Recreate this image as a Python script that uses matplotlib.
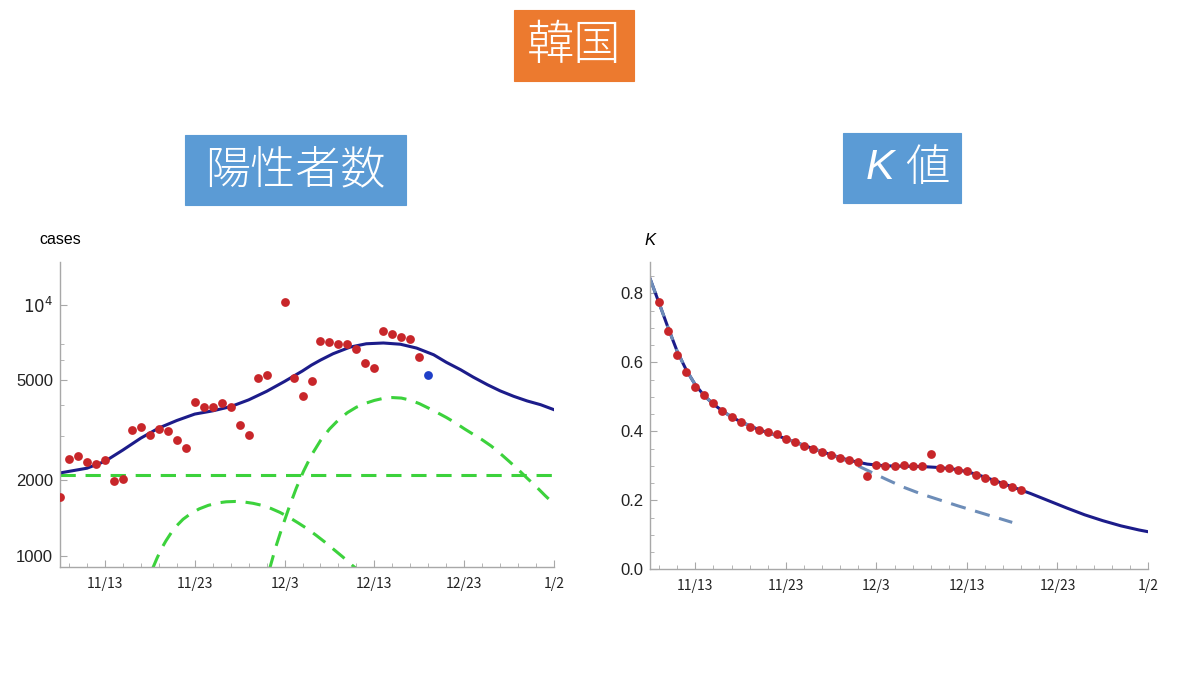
import datetime as dt
import numpy as np
import matplotlib
matplotlib.use("Agg")
import matplotlib.pyplot as plt
from matplotlib.patches import Rectangle
from matplotlib.ticker import FixedLocator, NullFormatter

plt.rcParams["font.family"] = ["Noto Sans CJK JP", "DejaVu Sans"]
LATIN = ["Liberation Sans", "DejaVu Sans"]

# day 0 = 11/8
START = dt.date(2020, 11, 8)
tick_days = [5, 15, 25, 35, 45, 55]
tick_labels = ["11/13", "11/23", "12/3", "12/13", "12/23", "1/2"]

# ---- left panel: daily positive cases (log scale) ----
case_days = [0, 1, 2, 3, 4, 5, 6, 7, 8, 9, 10, 11, 12, 13, 14, 15, 16, 17, 18, 19,
             20, 21, 22, 23, 25, 26, 27, 28, 29, 30, 31, 32, 33, 34, 35, 36, 37, 38,
             39, 40]
case_vals = [1720, 2430, 2500, 2360, 2320, 2420, 1995, 2030, 3170, 3260, 3030, 3210,
             3130, 2900, 2690, 4100, 3900, 3900, 4080, 3910, 3320, 3030, 5100, 5260,
             10250, 5100, 4340, 4950, 7190, 7080, 6960, 6960, 6680, 5840, 5600, 7880,
             7620, 7410, 7300, 6190]
latest_day = [41]
latest_val = [5245]

fit_days = [0, 3, 5, 7, 9, 11, 13, 15, 17, 19, 21, 23, 25, 27, 28, 29, 30.4, 32.3,
            34.1, 36, 37.9, 39.7, 41.6, 43, 44.6, 46, 47.6, 49, 50.5, 52, 53.5, 55]
fit_vals = [2140, 2235, 2380, 2640, 2945, 3230, 3460, 3670, 3780, 3930, 4180, 4520,
            4950, 5450, 5750, 6020, 6380, 6780, 6990, 7040, 6960, 6720, 6320, 5900,
            5510, 5150, 4800, 4540, 4320, 4140, 4000, 3820]

base_days = [0, 55]
base_vals = [2100, 2100]

wave1_days = [10.3, 10.8, 11.3, 11.8, 12.4, 13.0, 13.7, 14.5, 15.5, 16.5, 17.5, 18.5,
              19.5, 20.5, 21.5, 22.5, 23.5, 24.5, 25.5, 26.5, 27.5, 28.5, 29.5, 30.5,
              31.5, 32.5, 33.0]
wave1_vals = [890, 980, 1070, 1150, 1240, 1320, 1400, 1470, 1540, 1590, 1625, 1643,
              1648, 1640, 1620, 1590, 1545, 1490, 1425, 1355, 1285, 1210, 1135, 1060,
              990, 920, 890]

wave2_days = [23.3, 24.0, 24.7, 25.5, 26.3, 27.1, 28.0, 29.0, 30.0, 31.0, 32.0, 33.0,
              34.0, 35.0, 36.0, 37.0, 38.0, 39.0, 40.0, 41.0, 42.0, 43.0, 44.0, 45.0,
              46.0, 47.0, 48.0, 49.0, 50.0, 51.0, 52.0, 53.0, 54.0, 55.0]
wave2_vals = [880, 1080, 1290, 1560, 1860, 2170, 2520, 2880, 3200, 3480, 3720, 3910,
              4050, 4160, 4240, 4270, 4250, 4170, 4040, 3880, 3720, 3560, 3390, 3210,
              3050, 2900, 2740, 2560, 2380, 2210, 2040, 1890, 1740, 1610]

# ---- right panel: K value ----
k_days = list(range(1, 42))
k_vals = [0.776, 0.692, 0.622, 0.571, 0.530, 0.506, 0.483, 0.459, 0.441, 0.427,
          0.413, 0.404, 0.399, 0.391, 0.377, 0.368, 0.357, 0.349, 0.340, 0.330,
          0.322, 0.317, 0.312, 0.271, 0.302, 0.299, 0.299, 0.303, 0.299, 0.299,
          0.335, 0.294, 0.294, 0.289, 0.284, 0.274, 0.266, 0.257, 0.247, 0.239,
          0.230]

kfit_days = [0, 1, 2, 3, 4, 5, 6, 7, 8, 9, 10, 12, 14, 16, 18, 20, 22, 24, 26, 28,
             30, 32, 34, 36, 38, 40, 42, 44, 46, 48, 50, 52, 54, 55]
kfit_vals = [0.843, 0.772, 0.700, 0.632, 0.578, 0.535, 0.503, 0.479, 0.459, 0.442,
             0.428, 0.405, 0.388, 0.369, 0.350, 0.332, 0.316, 0.305, 0.300, 0.299,
             0.298, 0.295, 0.289, 0.276, 0.258, 0.239, 0.220, 0.199, 0.178, 0.158,
             0.141, 0.126, 0.114, 0.109]

kold_days = [0, 1, 2, 3, 4, 5, 6, 7, 8, 9, 10, 12, 14, 16, 18, 20, 22, 24, 26, 28,
             30, 32, 34, 36, 38, 40]
kold_vals = [0.843, 0.772, 0.700, 0.632, 0.578, 0.535, 0.503, 0.479, 0.459, 0.442,
             0.428, 0.405, 0.388, 0.369, 0.350, 0.332, 0.312, 0.287, 0.262, 0.238,
             0.218, 0.201, 0.184, 0.168, 0.152, 0.136]

RED = "#c8262a"
NAVY = "#1c1c8a"
GREEN = "#3cd23c"
GREY = "#a8a8a8"
DASH = (5, 3.2)


def style_axes(ax, ylabels):
    for side in ["top", "right"]:
        ax.spines[side].set_visible(False)
    for side in ["left", "bottom"]:
        ax.spines[side].set_color(GREY)
        ax.spines[side].set_linewidth(1.0)
    ax.set_xlim(0, 55)
    ax.xaxis.set_major_locator(FixedLocator(tick_days))
    ax.xaxis.set_minor_locator(FixedLocator(list(range(1, 55, 2))))
    ax.set_xticklabels(tick_labels)
    ax.set_yticklabels(ylabels, family=LATIN)
    ax.tick_params(axis="both", which="major", direction="in", length=5,
                   color=GREY, labelcolor="#222222")
    ax.tick_params(axis="both", which="minor", direction="in", length=3,
                   color=GREY)
    ax.tick_params(axis="x", pad=7, labelsize=10)
    ax.tick_params(axis="y", pad=5, labelsize=12)


fig = plt.figure(figsize=(12, 6.75), dpi=100)

ax1 = fig.add_axes([0.05, 0.16, 0.4117, 0.452])
ax1.set_yscale("log")
ax1.set_ylim(904, 14800)
ax1.plot(base_days, base_vals, color=GREEN, lw=2.2, dashes=DASH)
ax1.plot(wave1_days, wave1_vals, color=GREEN, lw=2.2, dashes=DASH)
ax1.plot(wave2_days, wave2_vals, color=GREEN, lw=2.2, dashes=DASH)
ax1.plot(fit_days, fit_vals, color=NAVY, lw=2.2)
ax1.scatter(case_days, case_vals, s=40, color=RED, zorder=5, linewidths=0)
ax1.scatter(latest_day, latest_val, s=40, color="#1f3fc8", zorder=5, linewidths=0)
ax1.yaxis.set_major_locator(FixedLocator([1000, 2000, 5000, 10000]))
ax1.yaxis.set_minor_locator(FixedLocator([3000, 4000, 6000, 7000]))
ax1.yaxis.set_minor_formatter(NullFormatter())
style_axes(ax1, ["1000", "2000", "5000", r"$10^4$"])
ax1.text(0.0, 1.072, "cases", transform=ax1.transAxes, fontsize=11.5,
         family=LATIN, ha="center", va="center")

ax2 = fig.add_axes([0.5417, 0.1566, 0.415, 0.4557])
ax2.set_ylim(0, 0.892)
ax2.plot(kfit_days, kfit_vals, color=NAVY, lw=2.2)
ax2.plot(kold_days, kold_vals, color="#6d8db8", lw=2.2, dashes=DASH)
ax2.scatter(k_days, k_vals, s=40, color=RED, zorder=5, linewidths=0)
ax2.yaxis.set_major_locator(FixedLocator([0.0, 0.2, 0.4, 0.6, 0.8]))
ax2.yaxis.set_minor_locator(FixedLocator(list(np.arange(0.05, 0.9, 0.05))))
style_axes(ax2, ["0.0", "0.2", "0.4", "0.6", "0.8"])
ax2.text(0.0, 1.07, "K", transform=ax2.transAxes, fontsize=12,
         style="italic", family=LATIN, ha="center", va="center")


def box(x0, y0, w, h, color):
    fig.add_artist(Rectangle((x0, y0), w, h, transform=fig.transFigure,
                             facecolor=color, edgecolor=color, lw=0.8))


box(0.428, 0.88, 0.1, 0.105, "#ec7a2f")
fig.text(0.478, 0.9326, "韓国", color="white", fontsize=34, ha="center",
         va="center", fontweight="light")

box(0.1542, 0.6963, 0.1842, 0.1037, "#5b9bd5")
fig.text(0.2463, 0.748, "陽性者数", color="white", fontsize=32.5, ha="center",
         va="center", fontweight="light")

box(0.7025, 0.6993, 0.0983, 0.1037, "#5b9bd5")
fig.text(0.733, 0.751, "K", color="white", fontsize=31, style="italic",
         family=LATIN, ha="center", va="center")
fig.text(0.7725, 0.751, "値", color="white", fontsize=32, ha="center",
         va="center", fontweight="light")

fig.savefig("out.png", dpi=100)
